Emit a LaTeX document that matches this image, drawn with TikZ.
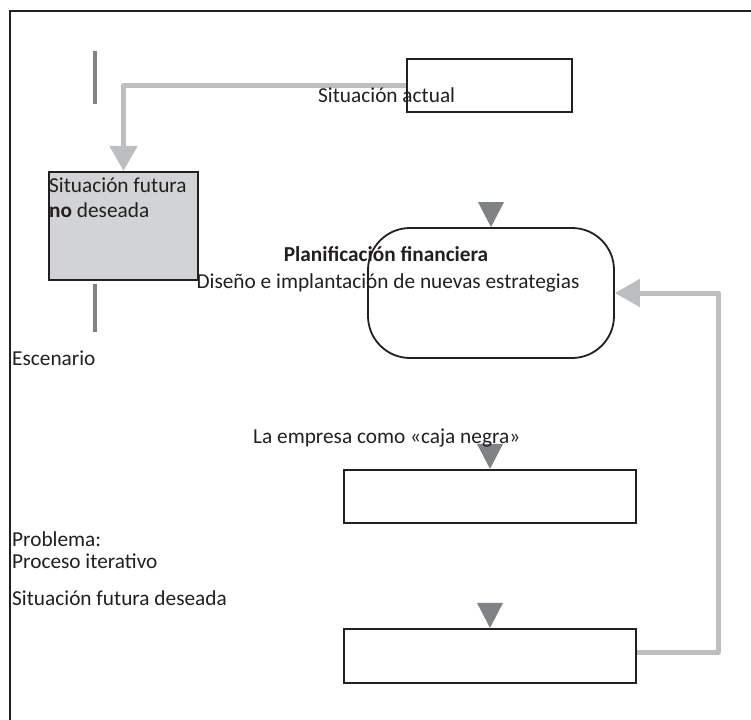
\documentclass[tikz,border=0pt]{standalone}
\usepackage{fontspec}
\setmainfont{Carlito}
\usetikzlibrary{arrows.meta}
\definecolor{ink}{HTML}{231F20}
\definecolor{linkgray}{HTML}{BCBEC0}
\definecolor{markgray}{HTML}{808285}
\definecolor{boxgray}{HTML}{D1D3D4}
\tikzset{
  box/.style={draw=ink, line width=2.2pt, inner sep=0pt},
  txt/.style={inner sep=0pt, font=\fontsize{21.3}{25}\selectfont, text=ink},
  link/.style={draw=linkgray, line width=5pt, line join=round,
    -{Triangle[width=27pt,length=25pt]}},
  tri/.style={fill=markgray},
  bar/.style={draw=markgray, line width=4.5pt},
}
\begin{document}
\begin{tikzpicture}[x=1pt,y=-1pt]
\useasboundingbox (0,0) rectangle (751,719);
% outer frame
\draw[ink, line width=2.2pt] (10,730) -- (10,11) -- (760,11);

% boxes
\node[box, minimum width=165pt, minimum height=53pt] (actual) at (489.5,85.5) {};
\node[box, fill=boxgray, minimum width=149pt, minimum height=108pt] (futura) at (123.5,226) {};
\node[box, line width=1.8pt, rounded corners=42pt, minimum width=246pt, minimum height=130pt] (plan) at (491,293) {};
\node[box, minimum width=292pt, minimum height=53pt] (caja) at (490,496.5) {};
\node[box, minimum width=292pt, minimum height=54pt] (deseada) at (490,656) {};

% vertical marks beside the grey box
\coordinate (b1a) at (95,51);
\coordinate (b1b) at (95,104);
\coordinate (b2a) at (95,284);
\coordinate (b2b) at (95,332);
\draw[bar] (b1a) -- (b1b);
\draw[bar] (b2a) -- (b2b);

% connectors
\draw[link] (actual.west) -| (futura.north);
\coordinate (loop) at (718,652);
\draw[link] (deseada.east |- loop) -- (loop) |- (plan.east);

% downward markers
\fill[tri] (plan.north) -- ++(-13,-25) -- ++(26,0) -- cycle;
\fill[tri] (caja.north) -- ++(-13,-25) -- ++(26,0) -- cycle;
\fill[tri] (deseada.north) -- ++(-13,-25) -- ++(26,0) -- cycle;

% texts
\node[txt, anchor=base west] (tactual) at (318,103) {Situación actual};
\node[txt, anchor=base west] (tfut1) at (49,193) {Situación futura};
\node[txt, anchor=base west] (tfut2) at (49,218) {\textbf{no} deseada};
\node[txt, anchor=base] (tplan1) at (386,261) {\textbf{Planificación financiera}};
\node[txt, anchor=base] (tplan2) at (388,288) {Diseño e implantación de nuevas estrategias};
\node[txt, anchor=base west] (tesc) at (12,365) {Escenario};
\node[txt, anchor=base west] (tcaja) at (253,443) {La empresa como «caja negra»};
\node[txt, anchor=base west] (tprob) at (12,546) {Problema:};
\node[txt, anchor=base west] (tproc) at (12,568) {Proceso iterativo};
\node[txt, anchor=base west] (tdes) at (12,605) {Situación futura deseada};
\end{tikzpicture}
\end{document}
